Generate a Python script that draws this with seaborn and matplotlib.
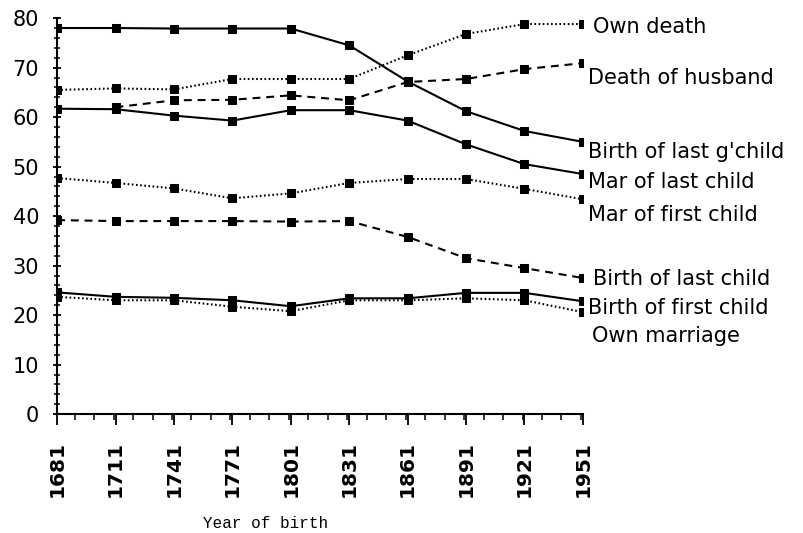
import numpy as np
import pandas as pd
import matplotlib
matplotlib.use("Agg")
import matplotlib.pyplot as plt
import matplotlib.transforms as mtransforms
from matplotlib.ticker import MultipleLocator
import seaborn as sns

# Year of birth cohorts
years = [1681, 1711, 1741, 1771, 1801, 1831, 1861, 1891, 1921, 1951]

# ages at each life event
own_death = [65.5, 65.8, 65.6, 67.7, 67.7, 67.7, 72.5, 76.8, 78.8, 78.8]
death_of_husband = [np.nan, 62.0, 63.4, 63.5, 64.4, 63.4, 67.1, 67.7, 69.7, 70.9]
birth_last_gchild = [78.0, 78.0, 77.9, 77.9, 77.9, 74.5, 67.2, 61.2, 57.2, 55.0]
mar_last_child = [61.7, 61.6, 60.3, 59.3, 61.4, 61.4, 59.3, 54.5, 50.5, 48.5]
mar_first_child = [47.7, 46.7, 45.6, 43.6, 44.6, 46.7, 47.5, 47.5, 45.5, 43.4]
birth_last_child = [39.2, 39.0, 39.0, 39.0, 38.9, 39.0, 35.8, 31.5, 29.5, 27.5]
birth_first_child = [24.6, 23.7, 23.5, 23.0, 21.8, 23.4, 23.4, 24.5, 24.5, 22.8]
own_marriage = [23.7, 23.0, 23.0, 21.7, 20.8, 23.0, 23.0, 23.4, 23.0, 20.6]

series = {
    "Own death": own_death,
    "Death of husband": death_of_husband,
    "Birth of last g'child": birth_last_gchild,
    "Mar of last child": mar_last_child,
    "Mar of first child": mar_first_child,
    "Birth of last child": birth_last_child,
    "Birth of first child": birth_first_child,
    "Own marriage": own_marriage,
}

dotted = (0, (0.8, 1.2))
dashed = (0, (3.8, 2.8))
line_styles = {
    "Own death": dotted,
    "Death of husband": dashed,
    "Birth of last g'child": "-",
    "Mar of last child": "-",
    "Mar of first child": dotted,
    "Birth of last child": dashed,
    "Birth of first child": "-",
    "Own marriage": dotted,
}

# where the end labels sit (y in data units, x offset in axes fraction)
label_y = {
    "Own death": 78.2,
    "Death of husband": 67.9,
    "Birth of last g'child": 52.9,
    "Mar of last child": 46.9,
    "Mar of first child": 40.2,
    "Birth of last child": 27.3,
    "Birth of first child": 21.5,
    "Own marriage": 15.8,
}
label_dx = {
    "Own death": 0.020,
    "Death of husband": 0.010,
    "Birth of last g'child": 0.010,
    "Mar of last child": 0.010,
    "Mar of first child": 0.010,
    "Birth of last child": 0.019,
    "Birth of first child": 0.010,
    "Own marriage": 0.017,
}

sns.set_style("ticks")
plt.rcParams["font.family"] = ["DejaVu Sans"]
plt.rcParams["text.color"] = "black"
plt.rcParams["axes.labelcolor"] = "black"
plt.rcParams["xtick.color"] = "black"
plt.rcParams["ytick.color"] = "black"

fig = plt.figure(figsize=(8.04, 5.33), dpi=100)
ax = fig.add_axes([0.071, 0.223, 0.654, 0.743])

for name, vals in series.items():
    df = pd.DataFrame({"year": years, "age": vals}).dropna()
    sns.lineplot(data=df, x="year", y="age", ax=ax, color="black",
                 linewidth=1.5, linestyle=line_styles[name], marker="s",
                 markersize=5.5, markeredgecolor="black", markerfacecolor="black",
                 errorbar=None)

trans = mtransforms.blended_transform_factory(ax.transAxes, ax.transData)
for name in series:
    ax.text(1 + label_dx[name], label_y[name], name, transform=trans,
            fontsize=15, va="center", ha="left", clip_on=False, color="black")

ax.set_xlim(1681, 1951)
ax.set_ylim(0, 80)
ax.set_xticks(years)
ax.set_xticklabels([str(y) for y in years], rotation=90, fontsize=14.5,
                   fontweight="bold")
ax.xaxis.set_minor_locator(MultipleLocator(10))
ax.yaxis.set_major_locator(MultipleLocator(10))
ax.yaxis.set_minor_locator(MultipleLocator(2))
ax.tick_params(axis="y", which="major", labelsize=15, length=6, width=1.3,
               direction="inout", pad=10)
ax.tick_params(axis="y", which="minor", length=4, width=1.1, direction="inout")
ax.tick_params(axis="x", which="major", length=8, width=1.3, direction="out",
               pad=11.5)
ax.tick_params(axis="x", which="minor", length=4, width=1.1, direction="out")

sns.despine(ax=ax)
for side in ["left", "bottom"]:
    ax.spines[side].set_linewidth(1.5)
    ax.spines[side].set_color("black")

ax.set_ylabel("")
ax.set_xlabel("Year of birth", family="Liberation Mono", fontsize=11.5)
ax.xaxis.set_label_coords(0.397, -0.258)

fig.savefig("out.png", dpi=100)
